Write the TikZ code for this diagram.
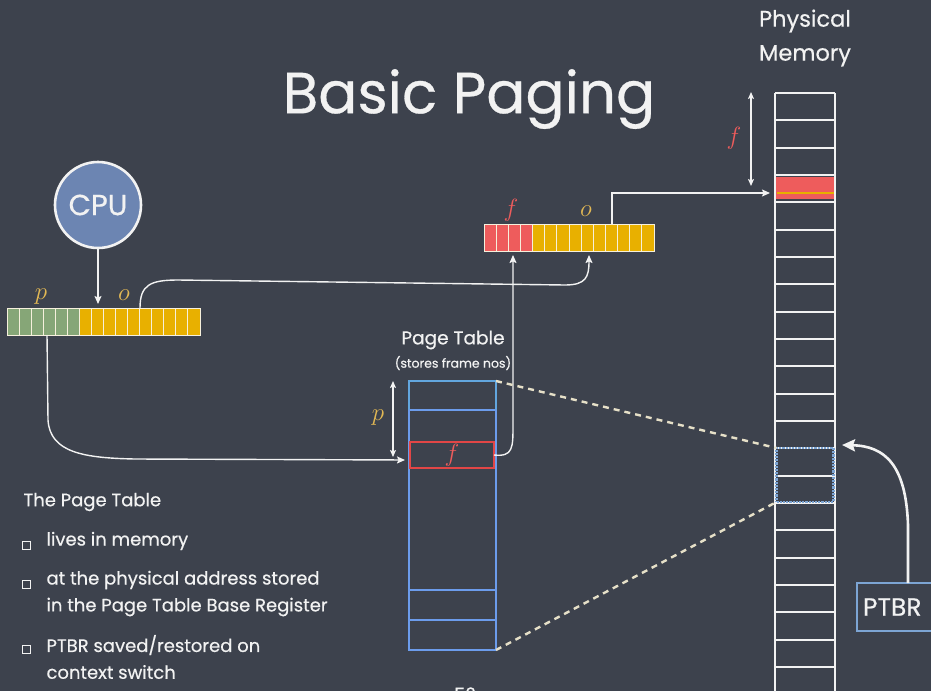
\documentclass[tikz,border=0pt]{standalone}
\usepackage{fontspec}
\setmainfont{Poppins}[FakeBold=0.5]
\usetikzlibrary{arrows.meta,calc}

\definecolor{board}{RGB}{61,66,77}
\definecolor{chalk}{RGB}{242,242,242}
\definecolor{pgreen}{RGB}{134,166,119}
\definecolor{oyellow}{RGB}{232,176,0}
\definecolor{fred}{RGB}{238,92,92}
\definecolor{ptblue}{RGB}{108,156,236}
\definecolor{ptcyan}{RGB}{98,166,222}
\definecolor{entryred}{RGB}{226,70,70}
\definecolor{dashbeige}{RGB}{230,224,200}
\definecolor{cpublue}{RGB}{108,133,178}
\definecolor{regblue}{RGB}{125,165,212}
\definecolor{cellline}{RGB}{246,240,220}
\definecolor{letteryellow}{RGB}{226,184,84}

\tikzset{
  chalkline/.style={draw=chalk, line width=1.4pt},
  arr/.style={chalkline, -{Stealth[length=8pt,width=7pt,inset=1.5pt]}},
  dblarr/.style={chalkline, {Stealth[length=7pt,width=6pt,inset=1.5pt]}-{Stealth[length=7pt,width=6pt,inset=1.5pt]}},
  bigarr/.style={draw=chalk, line width=2.6pt, -{Stealth[length=13pt,width=12pt,inset=2pt]}},
  regbox/.style={rectangle, inner sep=0pt, outer sep=0pt},
  cellbox/.style={draw=cellline, line width=0.9pt},
  memrow/.style={draw=chalk, line width=2pt},
  ptrow/.style={draw=ptblue, line width=2pt},
  dashlink/.style={draw=dashbeige, line width=2.4pt, dash pattern=on 6pt off 5pt},
  bodytext/.style={text=chalk, anchor=west, font=\fontsize{18}{20}\selectfont},
  bulletbox/.style={draw=chalk, line width=0.8pt, minimum size=8pt, inner sep=0pt},
  mathlabel/.style={font=\fontsize{24}{24}\selectfont},
}

\begin{document}
\begin{tikzpicture}[x=1pt,y=-1pt]
  % chalkboard background
  \fill[board] (0,0) rectangle (931,691);
  \useasboundingbox (0,0) rectangle (931,691);

  % title
  \node[text=chalk, font=\fontsize{58}{60}\selectfont] (title) at (469,99) {Basic Paging};

  % ---------- CPU ----------
  \node[circle, minimum size=86pt, fill=cpublue, draw=chalk, line width=2.6pt,
        text=chalk, font=\fontsize{29}{29}\selectfont] (cpu) at (98,205) {CPU};

  % ---------- virtual address (p | o) ----------
  \node[regbox, minimum width=193pt, minimum height=27pt] (va) at (103.5,321.5) {};
  \foreach \i in {0,...,15}{
    \pgfmathsetmacro{\xa}{7+\i*12.0625}
    \pgfmathsetmacro{\xb}{\xa+12.0625}
    \ifnum\i<6 \def\cc{pgreen}\else\def\cc{oyellow}\fi
    \filldraw[cellbox, fill=\cc] (\xa,308) rectangle (\xb,335);
  }
  \node[text=letteryellow, mathlabel] (vap) at (41,297) {$p$};
  \node[text=letteryellow, mathlabel] (vao) at (124,295) {$o$};

  % ---------- physical address (f | o) ----------
  \node[regbox, minimum width=170pt, minimum height=27pt] (pa) at (569,237.5) {};
  \foreach \i in {0,...,13}{
    \pgfmathsetmacro{\xa}{484+\i*12.1429}
    \pgfmathsetmacro{\xb}{\xa+12.1429}
    \ifnum\i<4 \def\cc{fred}\else\def\cc{oyellow}\fi
    \filldraw[cellbox, fill=\cc] (\xa,224) rectangle (\xb,251);
  }
  \node[text=fred, mathlabel] (paf) at (511,210) {$f$};
  \node[text=letteryellow, mathlabel] (pao) at (586,211) {$o$};

  % ---------- page table ----------
  \node[text=chalk, font=\fontsize{18.5}{18.5}\selectfont] (pttitle) at (453,340) {Page Table};
  \node[text=chalk, font=\fontsize{12.5}{12.5}\selectfont] (ptsub) at (453,363) {(stores frame nos)};
  \node[regbox, minimum width=87pt, minimum height=269pt] (pt) at (452.5,515.5) {};
  \draw[draw=ptcyan, line width=2pt] (409,410) -- (409,381) -- (496,381) -- (496,410);
  \draw[ptrow] (409,410) -- (496,410);
  \draw[ptrow] (409,410) -- (409,650) -- (496,650) -- (496,410);
  \draw[ptrow] (409,468) -- (496,468);
  \draw[ptrow] (409,590) -- (496,590);
  \draw[ptrow] (409,620) -- (496,620);
  \node[regbox, draw=entryred, line width=2.4pt, minimum width=84pt, minimum height=26pt,
        text=fred, mathlabel] (entry) at (452,455) {$f$};
  \draw[dblarr] (393,381) -- (393,457);
  \node[text=letteryellow, mathlabel] (ptp) at (378,418) {$p$};

  % ---------- physical memory ----------
  \node[text=chalk, align=center, font=\fontsize{22.5}{34}\selectfont] (memtitle) at (805,38) {Physical\\Memory};
  \node[regbox, minimum width=60pt, minimum height=620pt] (mem) at (805,403) {};
  \fill[fred] (776,177) rectangle (836,199);
  \draw[oyellow, line width=2pt] (777,193) -- (835,193);
  \foreach \k in {0,...,22}{
    \draw[memrow] (775,{93+\k*27.33}) -- (835,{93+\k*27.33});
  }
  \draw[memrow] (775,93) -- (775,700);
  \draw[memrow] (835,93) -- (835,700);
  \node[regbox, draw=regblue, line width=2.2pt, densely dotted,
        minimum width=57pt, minimum height=54pt] (ptmem) at (805,475) {};
  \draw[dblarr] (751,92) -- (751,186);
  \node[text=fred, font=\fontsize{27}{27}\selectfont] (memf) at (734,138) {$f$};
  \coordinate (frame) at (770,193);

  % ---------- PTBR ----------
  \node[regbox, draw=regblue, line width=2pt, minimum width=100pt, minimum height=48pt,
        anchor=west, text=chalk, font=\fontsize{25}{25}\selectfont,
        text width=96pt, align=left] (ptbr) at (857,607) {\hspace{4pt}PTBR};

  % ---------- connectors ----------
  \draw[arr, shorten >=4pt] (cpu.south) -- (cpu.south |- va.north);

  \coordinate (vaofs) at (140,308);
  \coordinate (paofs) at (589,251);
  \draw[arr, shorten >=4pt] (vaofs) .. controls (140,285) and (150,280) .. (178,280)
        -- (565,285) .. controls (586,285) and (589,277) .. (paofs);

  \coordinate (vapage) at (47,335);
  \draw[arr, shorten >=5pt] (vapage) -- (48,420) .. controls (50,453) and (85,458) .. (135,459)
        -- (entry.west |- 0,460);

  \draw[arr, shorten >=4pt] (entry.east) .. controls (513,457) and (513,448) .. (513,425)
        -- (513,251);

  \coordinate (paout) at (612,224);
  \draw[arr] (paout) -- (612,193) -- (frame);

  \draw[dashlink] (496,381) -- (ptmem.north west);
  \draw[dashlink] (496,650) -- (ptmem.south west);

  \draw[bigarr] (ptbr.north west -| 908,0) -- (908,525)
        .. controls (906,465) and (885,446) .. (842,445);

  % ---------- notes ----------
  \node[bodytext] (n0) at (20,502) {The Page Table};
  \node[bulletbox] (b1) at (26,545) {};
  \node[bodytext] (n1) at (43,541) {lives in memory};
  \node[bulletbox] (b2) at (26,584) {};
  \node[bodytext] (n2) at (43,580) {at the physical address stored};
  \node[bodytext] (n3) at (43,607) {in the Page Table Base Register};
  \node[bulletbox] (b3) at (26,649) {};
  \node[bodytext] (n4) at (43,645) {PTBR saved/restored on};
  \node[bodytext] (n5) at (43,672) {context switch};

  \node[text=chalk, font=\fontsize{18}{18}\selectfont] (pageno) at (465,694) {52};
\end{tikzpicture}
\end{document}
